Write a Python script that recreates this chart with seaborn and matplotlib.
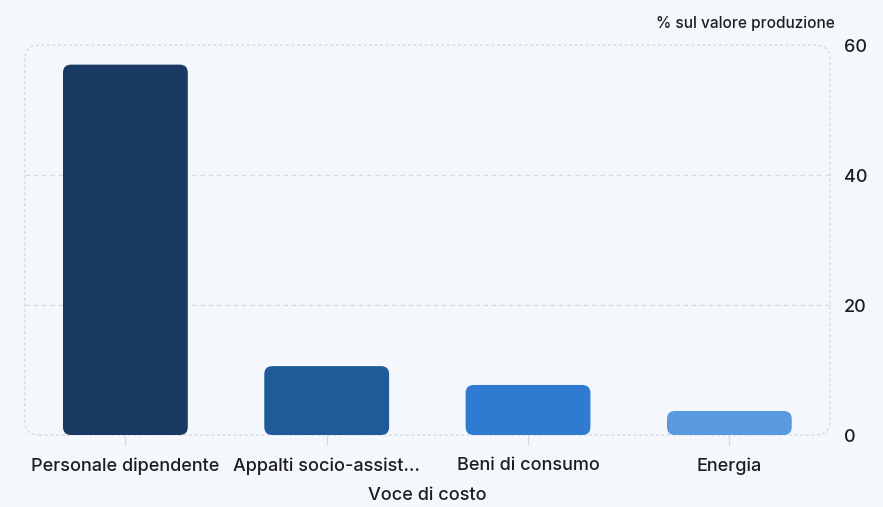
import matplotlib.pyplot as plt
import seaborn as sns
import pandas as pd
from matplotlib.patches import FancyBboxPatch

# dati
voci = ['Personale dipendente', 'Appalti socio-assist...', 'Beni di consumo', 'Energia']
valori = [57.0, 10.6, 7.7, 3.7]
colori = ['#1b3a63', '#1f5a99', '#2e7bd1', '#5a9be0']

df = pd.DataFrame({'voce': voci, 'valore': valori})

sns.set_theme(style='white')
plt.rcParams['font.family'] = ['Inter', 'DejaVu Sans']
bg = '#f4f8fc'
txt = '#1e1e1e'

fig = plt.figure(figsize=(8.83, 5.07), dpi=100, facecolor=bg)
ax = fig.add_axes([0.028, 0.142, 0.912, 0.769])
ax.set_facecolor(bg)

sns.barplot(data=df, x='voce', y='valore', hue='voce', palette=colori,
            saturation=1, width=0.62, legend=False, ax=ax)

ax.set_xlim(-0.5, 3.5)
ax.set_ylim(0, 60)

# barre arrotondate
asp = (60 / 390) / (4 / 805)
for p in list(ax.patches):
    x, y = p.get_x(), p.get_y()
    w, h = p.get_width(), p.get_height()
    fc = p.get_facecolor()
    p.remove()
    ax.add_patch(FancyBboxPatch((x, y), w, h,
                                boxstyle='round,pad=0,rounding_size=0.04',
                                mutation_aspect=asp, fc=fc, ec='none', zorder=3))

# griglia tratteggiata
for v in [0, 20, 40]:
    ax.axhline(v, color='#d3dae2', lw=1, ls=(0, (3, 3)), zorder=1)

# bordo tratteggiato arrotondato
for s in ax.spines.values():
    s.set_visible(False)
ax.add_patch(FancyBboxPatch((0, 0), 1, 1, transform=ax.transAxes,
                            boxstyle='round,pad=0,rounding_size=0.018',
                            mutation_aspect=805 / 390, fc='none',
                            ec='#d3dae2', lw=1, ls=(0, (2, 2)),
                            clip_on=False, zorder=2))

ax.yaxis.tick_right()
ax.set_yticks([0, 20, 40, 60])
ax.tick_params(axis='y', length=0, pad=10, labelsize=13, labelcolor=txt)
ax.tick_params(axis='x', length=7, width=1, color='#d3dae2', pad=9,
               labelsize=13, labelcolor=txt, direction='out')
ax.tick_params(axis='x', bottom=True)
for lab in ax.get_xticklabels() + ax.get_yticklabels():
    lab.set_fontweight('medium')

ax.set_ylabel('')
ax.set_xlabel('Voce di costo', fontsize=13, color=txt, labelpad=9,
              fontweight='medium')
ax.text(1.006, 1.035, '% sul valore produzione', transform=ax.transAxes,
        ha='right', va='bottom', fontsize=11.1, color=txt, fontweight='medium')

plt.savefig('out.png', dpi=100, facecolor=bg)
